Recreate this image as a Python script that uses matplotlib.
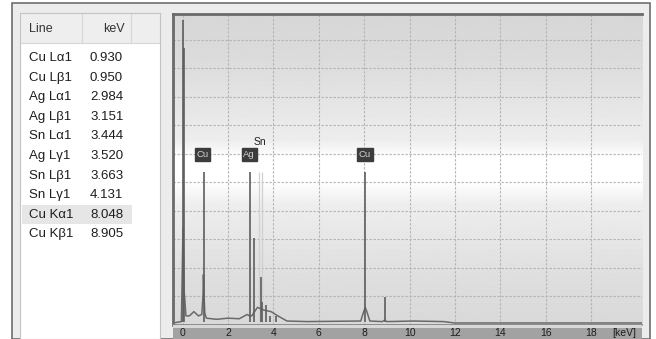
import numpy as np
import matplotlib
matplotlib.use('Agg')
import matplotlib.pyplot as plt
from matplotlib.patches import Rectangle

lines = ['Cu L\u03b11', 'Cu L\u03b21', 'Ag L\u03b11', 'Ag L\u03b21', 'Sn L\u03b11',
         'Ag L\u03b31', 'Sn L\u03b21', 'Sn L\u03b31', 'Cu K\u03b11', 'Cu K\u03b21']
kev = ['0.930', '0.950', '2.984', '3.151', '3.444', '3.520', '3.663', '4.131', '8.048', '8.905']
selected = 'Cu K\u03b11'

# pics fins (énergie en keV, hauteur en graduations)
peak_kev = [0.00, 0.05, 0.93, 2.984, 3.151, 3.444, 3.52, 3.663, 3.85, 4.131, 8.048, 8.905]
peak_counts = [10.7, 9.7, 5.35, 5.35, 3.05, 1.67, 0.8, 0.68, 0.3, 0.3, 5.35, 0.97]

# fond continu et pieds de pics
bg_kev = [-0.42, -0.05, 0.02, 0.07, 0.15, 0.3, 0.5, 0.7, 0.85, 0.9, 0.92, 0.95, 0.98,
          1.05, 1.5, 2.0, 2.5, 2.85, 2.95, 3.05, 3.3, 3.6, 3.9, 4.2, 4.6, 5.5,
          7.85, 7.98, 8.05, 8.12, 8.25, 8.8, 8.9, 9.0, 10.2, 11.5, 12.0, 20.3]
bg_counts = [0.05, 0.1, 3.4, 1.2, 0.3, 0.3, 0.45, 0.3, 0.35, 1.0, 1.75, 1.0, 0.4,
             0.22, 0.18, 0.22, 0.2, 0.35, 0.3, 0.3, 0.6, 0.5, 0.45, 0.3, 0.12, 0.1,
             0.12, 0.45, 0.6, 0.45, 0.12, 0.1, 0.15, 0.1, 0.12, 0.1, 0.05, 0.05]

# lignes de repère pâles (Sn)
marker_kev = [3.36, 3.50]
marker_counts = [5.35, 5.35]

# étiquettes d'éléments
box_labels = ['Cu', 'Ag', 'Cu']
box_kev = [0.88, 2.93, 8.04]
plain_labels = ['Sn']
plain_kev = [3.41]

xticks = [0, 2, 4, 6, 8, 10, 12, 14, 16, 18]

W, H = 656, 339
plt.rcParams['font.family'] = ['Liberation Sans', 'DejaVu Sans']


def px(x0, y0, x1, y1):
    return [x0 / W, 1 - y1 / H, (x1 - x0) / W, (y1 - y0) / H]


fig = plt.figure(figsize=(W / 100, H / 100), dpi=100)
fig.patch.set_facecolor('white')

# cadre extérieur
fig.patches.append(Rectangle((12 / W, 0), (650 - 12) / W, (H - 3) / H, transform=fig.transFigure,
                             facecolor='#ececec', edgecolor='#6e6e6e', lw=1.2, zorder=-5))

# ---- tableau de gauche ----
tab = fig.add_axes(px(20, 13, 160, 339))
tab.set_xlim(20, 160)
tab.set_ylim(339, 13)
tab.set_facecolor('white')
for s in tab.spines.values():
    s.set_color('#c4c4c4')
tab.set_xticks([])
tab.set_yticks([])
tab.add_patch(Rectangle((20, 13), 140, 30, facecolor='#eeeeee', edgecolor='none'))
tab.plot([20, 160], [43, 43], color='#d6d6d6', lw=0.8)
tab.plot([82, 82], [13, 43], color='#d6d6d6', lw=0.8)
tab.plot([131, 131], [13, 43], color='#d6d6d6', lw=0.8)
tab.text(29, 29, 'Line', fontsize=9, color='#333333', va='center', ha='left')
tab.text(125, 29, 'keV', fontsize=9, color='#333333', va='center', ha='right')
for i, (name, val) in enumerate(zip(lines, kev)):
    y = 58 + i * 19.6
    if name == selected:
        tab.add_patch(Rectangle((22, y - 9.5), 110, 19, facecolor='#e6e6e6', edgecolor='none'))
    tab.text(29, y, name, fontsize=9.5, color='#1e1e1e', va='center', ha='left')
    tab.text(90, y, val, fontsize=9.5, color='#1e1e1e', va='center', ha='left')

# ---- spectre ----
ax = fig.add_axes(px(173, 14, 642, 325))
ax.set_xlim(-0.42, 20.24)
ax.set_ylim(-0.02, 10.91)

# dégradé de fond
ypix = np.arange(14, 326)
nodes_pix = [14, 60, 140, 158, 182, 205, 280, 325]
nodes_val = [0.84, 0.86, 0.93, 1.0, 1.0, 0.93, 0.87, 0.85]
grad = np.interp(ypix, nodes_pix, nodes_val)[:, None]
ax.imshow(grad, cmap='gray', vmin=0, vmax=1, aspect='auto', extent=[0, 1, 0, 1],
          transform=ax.transAxes, zorder=0)

ax.set_xticks(xticks)
ax.set_yticks(np.arange(1, 11))
ax.grid(True, color='#b4b4b4', lw=0.8, linestyle=(0, (2.1, 1.5)), zorder=1)
ax.tick_params(length=0, labelbottom=False, labelleft=False)
for s in ax.spines.values():
    s.set_visible(False)
for side in ['left', 'top']:
    ax.spines[side].set_visible(True)
    ax.spines[side].set_color('#6a6a6a')
    ax.spines[side].set_linewidth(2)
ax.spines['bottom'].set_visible(True)
ax.spines['bottom'].set_color('#808080')
ax.spines['bottom'].set_linewidth(1.2)

ax.vlines(marker_kev, 0, marker_counts, color='#d0d0d0', lw=0.9, zorder=2)
ax.plot(bg_kev, bg_counts, color='#6a6a6a', lw=1.1, zorder=3)
ax.vlines(peak_kev, 0.1, peak_counts, color='#5e5e5e', lw=1.2, zorder=3)

for lab, x in zip(box_labels, box_kev):
    ax.text(x, 5.97, lab, fontsize=6.8, color='#d0d0d0', ha='center', va='center', zorder=4,
            bbox=dict(boxstyle='square,pad=0.18', facecolor='#3c3c3c', edgecolor='#3c3c3c'))
for lab, x in zip(plain_labels, plain_kev):
    ax.text(x, 6.4, lab, fontsize=7.5, color='#222222', ha='center', va='center', zorder=4)

# barre d'axe grise
bar = fig.add_axes(px(173, 325, 642, 339))
bar.set_xlim(ax.get_xlim())
bar.set_ylim(0, 14)
bar.axis('off')
bar.add_patch(Rectangle((-0.42, 0), 20.66, 14, facecolor='#a2a2a2', edgecolor='none'))
bar.add_patch(Rectangle((-0.42, 11.5), 20.66, 2.5, facecolor='#d8d8d8', edgecolor='none'))
for t in xticks:
    bar.text(t, 5.5, str(t), fontsize=7.5, color='#1e1e1e', ha='center', va='center')
bar.text(19.45, 5.5, '[keV]', fontsize=7.5, color='#1e1e1e', ha='center', va='center')

fig.savefig('out.png', dpi=100)
